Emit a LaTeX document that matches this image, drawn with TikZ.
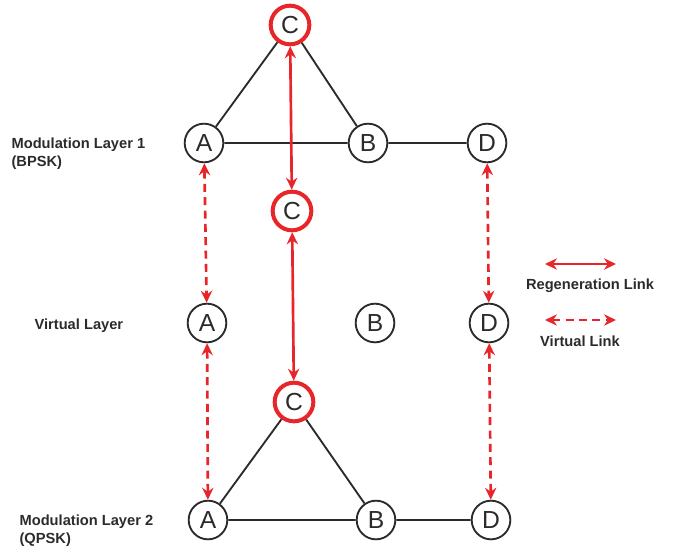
\documentclass[tikz,border=0pt]{standalone}
\usepackage{fontspec}
\setmainfont{Liberation Sans}
\usetikzlibrary{arrows.meta}
\definecolor{lred}{HTML}{E8262A}
\definecolor{dgray}{HTML}{2B2B2B}
\begin{document}
\begin{tikzpicture}[x=0.75pt, y=-0.75pt,
        N/.style  = {circle, draw=dgray, line width=1.4pt, minimum size=29pt,
                     inner sep=0pt, fill=white, text=dgray,
                     font=\fontsize{18.5}{20}\selectfont},
        RN/.style = {N, draw=lred, line width=3pt},
        E/.style  = {draw=dgray, line width=1.4pt},
        RL/.style = {draw=lred, line width=2pt,
                     {Stealth[length=9pt,width=8.5pt,inset=3pt]}-{Stealth[length=9pt,width=8.5pt,inset=3pt]}},
        VL/.style = {RL, dash pattern=on 6pt off 4pt},
        L/.style  = {anchor=west, align=left, text=dgray, inner sep=1pt,
                     font=\bfseries\fontsize{11}{13.5}\selectfont}
                                ]
    \useasboundingbox (0,0) rectangle (681,553);
    % modulation layer 1
    \node[RN] (c1) at (290,25)  {C};
    \node[N]  (a1) at (204,143) {A};
    \node[N]  (b1) at (368,143) {B};
    \node[N]  (d1) at (487,143) {D};
    % virtual layer
    \node[RN] (c2) at (292,211) {C};
    \node[N]  (a2) at (207,323) {A};
    \node[N]  (b2) at (375,323) {B};
    \node[N]  (d2) at (489,323) {D};
    % modulation layer 2
    \node[RN] (c3) at (294,402) {C};
    \node[N]  (a3) at (208,520) {A};
    \node[N]  (b3) at (376,520) {B};
    \node[N]  (d3) at (491,520) {D};

    % links
    \draw[E] (c1) -- (a1) -- (b1) -- (c1) (b1) -- (d1);
    \draw[E] (c3) -- (a3) -- (b3) -- (c3) (b3) -- (d3);
    \draw[RL] (c1) -- (c2);
    \draw[RL] (c2) -- (c3);
    \draw[VL] (a1) -- (a2);
    \draw[VL] (a2) -- (a3);
    \draw[VL] (d1) -- (d2);
    \draw[VL] (d2) -- (d3);

    % layer names
    \node[L] (l1) at (10,154) {Modulation Layer 1\\(BPSK)};
    \node[L] (l2) at (33,326) {Virtual Layer};
    \node[L] (l3) at (18,531) {Modulation Layer 2\\(QPSK)};

    % legend
    \coordinate (r1) at (545,264);
    \coordinate (r2) at (616,264);
    \coordinate (v1) at (545,320);
    \coordinate (v2) at (616,320);
    \draw[RL] (r1) -- (r2);
    \draw[VL] (v1) -- (v2);
    \node[L, anchor=center] (rl) at (590,286) {Regeneration Link};
    \node[L, anchor=center] (vl) at (580,341) {Virtual Link};
\end{tikzpicture}
\end{document}
